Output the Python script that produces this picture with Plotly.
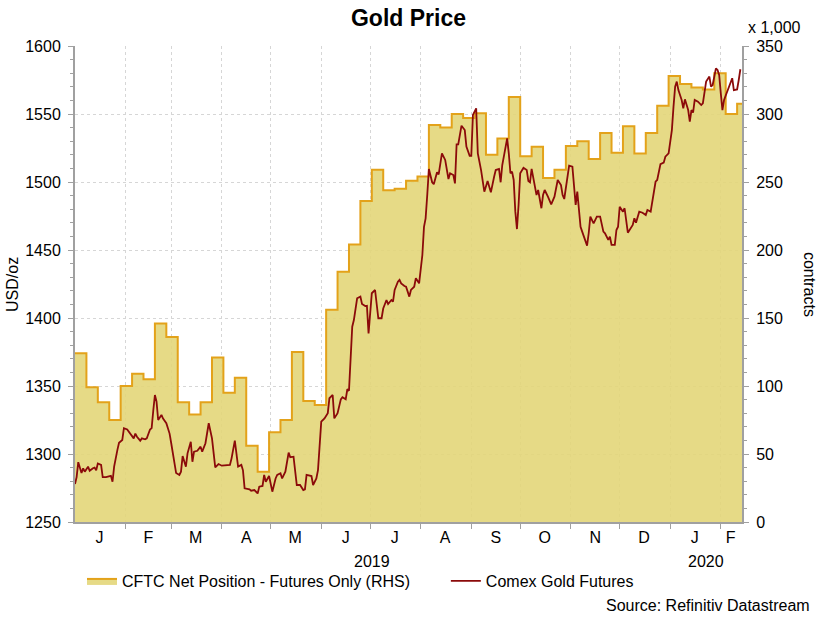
import plotly.graph_objects as go
import pandas as pd

# CFTC net position (futures only), thousand contracts, weekly (Tuesdays) from 2019-01-01
# last entry = value held on the last day shown (2020-02-14)
cftc_k = [124, 99, 88, 75, 100, 109, 105, 146, 136, 88,
          79, 88, 121, 95, 106, 56, 37, 66, 75, 125,
          89, 86, 156, 184, 204, 236, 259, 244, 245, 251,
          254, 292, 290, 300, 297, 300.5, 270, 282, 312.5, 269,
          276, 253, 259, 276.5, 280, 267, 286, 271.5, 291, 271,
          286, 306, 328, 322, 319.5, 318, 330, 300, 307.5, 307.5]

# Comex gold futures, USD/oz (day = days after 2019-01-01)
gold_day = [0, 1, 2, 4, 5, 6, 8, 9, 11, 12, 13, 14, 16, 17, 19, 22, 23, 24, 26, 27,
            29, 30, 32, 34, 36, 37, 38, 40, 41, 43, 44, 46, 47, 48, 49, 50, 51, 53, 54, 56,
            58, 59, 61, 62, 64, 65, 66, 68, 69, 71, 72, 73, 75, 77, 78, 80, 82, 84, 86, 88,
            90, 93, 95, 96, 98, 100, 102, 103, 104, 107,
            108, 110, 112, 113, 115, 116, 117, 119, 121, 123, 124, 126, 127, 129, 131, 132, 134, 136, 138, 140,
            141, 142, 144, 145, 146, 148, 149, 151, 153, 155, 156, 158, 159, 161, 163, 164, 166, 167, 168, 169,
            170, 171, 173, 175, 176, 178, 179, 180, 181, 182, 184, 185, 186, 188, 189, 191, 192, 194, 195, 196,
            198, 199, 200, 202, 203, 205, 206, 208, 209, 211,
            213, 214, 215, 216, 217, 219, 220, 222, 223, 225, 227, 229, 230, 232, 233, 234, 235, 237, 239, 240,
            242, 243, 244, 246, 247, 249, 250, 251, 253, 255, 257, 258, 260, 261, 262, 265, 266, 267, 268, 269,
            270, 271, 272, 273, 275, 277, 278, 279, 280, 281, 283, 284, 286, 287, 288, 290, 292, 294, 296, 298,
            299, 300, 302, 303, 305, 306, 307, 308, 310, 311, 313, 314,
            315, 316, 318, 320, 322, 324, 325, 327, 328, 329, 331, 332, 333, 334, 336, 337, 339, 340, 342, 343,
            344, 346, 348, 350, 351, 353, 354, 356, 357, 358, 359, 361, 362, 364, 365, 366, 367, 368, 369, 370,
            372, 373, 374, 376, 377, 378, 379, 380, 382, 384, 385, 386, 387, 389, 390, 391, 393, 394, 395, 396,
            397, 398, 400, 401, 403, 404, 406, 407, 408]
gold_usd = [1278, 1283, 1294, 1286, 1289.5, 1287, 1290.7, 1287.7, 1289.5, 1290,
            1288, 1293, 1292, 1283, 1283, 1284, 1279.6, 1290.7, 1303, 1308.3,
            1310.3, 1319, 1318, 1315, 1311.5, 1315, 1312.7, 1309.8, 1311.5, 1310.8,
            1311.5, 1318, 1319, 1332, 1343.4, 1338.5, 1325, 1328.7, 1326, 1322.6,
            1315, 1307.9, 1293, 1286, 1284.6, 1287, 1298.5, 1290.7, 1300.5, 1309,
            1294.3, 1301.7, 1302.4, 1305.4, 1301.7, 1307.9, 1322.6, 1311.5, 1290.2, 1292.6,
            1291.4, 1292, 1292, 1296.8, 1309.8, 1290.7, 1292, 1288, 1274.8, 1274,
            1273, 1273.5, 1271, 1276, 1276.5, 1284.6, 1279.6, 1283.8, 1272.3, 1282,
            1284.6, 1285.8, 1282, 1287, 1301, 1297.6, 1298, 1277.2, 1277.2, 1273.5,
            1274, 1284.6, 1283.8, 1283.8, 1277.2, 1282, 1288.2, 1323.8, 1326.2, 1330,
            1341, 1343.4, 1326.2, 1330, 1340.2, 1341.7, 1340.2, 1347.6, 1346.5, 1371.5,
            1393.6, 1398.5, 1414.5, 1415.7, 1410.3, 1408.8, 1409, 1388.7, 1405.9, 1418.2,
            1420.6, 1410.8, 1399.8, 1399.8, 1407, 1413.2, 1410.3, 1413.2, 1412, 1420.6,
            1426.7, 1428, 1425.5, 1423.5, 1423, 1415.7, 1420.6, 1423, 1429.2, 1425.5,
            1446.3, 1467, 1473.3, 1490.4, 1509.6, 1499.8, 1498.3, 1507.1, 1505.6, 1521,
            1516.2, 1502.2, 1506.4, 1505.1, 1499, 1527.7, 1527.7, 1541.4, 1538.2, 1526,
            1519.3, 1519.3, 1549.3, 1554.2, 1521, 1508.8, 1501.5, 1492.9, 1500.7, 1492.4,
            1503.9, 1508.8, 1509.6, 1499.8, 1512.5, 1532.1, 1521, 1506.4, 1507.6, 1501.5,
            1478.2, 1465.4, 1483.1, 1506.4, 1510.5, 1508.8, 1500.7, 1499.8, 1509.6, 1502.7,
            1490.4, 1494.1, 1480.7, 1490.4, 1494.1, 1489.2, 1483.6, 1489.2, 1501.5, 1497.8,
            1490.4, 1487.5, 1505.1, 1512, 1511.2, 1494.1, 1483.1, 1492.9, 1467.1, 1463.5,
            1456.1, 1453.2,
            1462.3, 1474.5, 1469.6, 1474.5, 1474.5, 1463.5, 1462.3, 1457.4, 1459.8, 1453.7,
            1453.7, 1464.7, 1467.1, 1481.8, 1478.2, 1480.7, 1462.7, 1464.7, 1468.4, 1473.3,
            1470.1, 1478.2, 1477.4, 1475.7, 1479.4, 1478.2, 1485.5, 1500.2, 1501.5, 1508.8,
            1513.2, 1514.2, 1518.6, 1521, 1528.4, 1538.2, 1555.4, 1570.1, 1573.8, 1567.6,
            1560.3, 1554.2, 1560.8, 1552.9, 1544.3, 1552.9, 1551, 1560.3, 1559.1, 1556.6,
            1557.9, 1565.2, 1573.8, 1577.5, 1570.1, 1571.3, 1583.6, 1582.4, 1578.7, 1565.2,
            1552.9, 1560.3, 1566.4, 1570.1, 1576.3, 1567.6, 1568.1, 1575, 1582.9]

month_letters = ["J", "F", "M", "A", "M", "J", "J", "A", "S", "O", "N", "D", "J", "F"]
month_mid = ["2019-01-16", "2019-02-15", "2019-03-16", "2019-04-16", "2019-05-16", "2019-06-16",
             "2019-07-16", "2019-08-16", "2019-09-16", "2019-10-16", "2019-11-16", "2019-12-16",
             "2020-01-16", "2020-02-07"]
years = ["2019", "2020"]
year_mid = ["2019-07-02", "2020-01-23"]

start, end = "2019-01-01", "2020-02-14"
cftc_dates = list(pd.date_range(start, "2020-02-11", freq="7D")) + [pd.Timestamp(end)]
gold_dates = pd.Timestamp(start) + pd.to_timedelta(gold_day, unit="D")
month_starts = pd.date_range("2019-02-01", "2020-02-01", freq="MS")

FONT = "Liberation Sans, Arial, sans-serif"
AXIS = "#a0a0a0"
GRID = "#d6d6d6"

fig = go.Figure()
fig.add_trace(go.Scatter(
    x=cftc_dates, y=cftc_k, name="CFTC Net Position - Futures Only (RHS)",
    mode="lines", line=dict(color="#e3a21a", width=2, shape="hv"),
    fill="tozeroy", fillcolor="rgba(227,214,121,0.9)", yaxis="y", legend="legend"))
fig.add_trace(go.Scatter(
    x=gold_dates, y=gold_usd, name="Comex Gold Futures",
    mode="lines", line=dict(color="#8b0a0a", width=1.8), yaxis="y2", legend="legend2"))

legend_style = dict(orientation="h", xanchor="left", y=-0.124, yanchor="middle",
                    font=dict(size=16), bgcolor="rgba(0,0,0,0)")

fig.update_layout(
    width=817, height=617,
    margin=dict(l=75, r=75, t=46, b=95),
    paper_bgcolor="white", plot_bgcolor="white",
    font=dict(family=FONT, size=16, color="black"),
    title=dict(text="<b>Gold Price</b>", x=0.5, xref="paper", y=0.971, yanchor="middle",
               font=dict(size=23, family=FONT)),
    showlegend=True,
    legend=dict(x=0.0105, **legend_style),
    legend2=dict(x=0.556, **legend_style),
    xaxis=dict(
        type="date", range=[start, end],
        tickmode="array", tickvals=month_mid, ticktext=month_letters, ticks="",
        showgrid=False, zeroline=False,
        showline=True, linecolor=AXIS, linewidth=2,
        tickfont=dict(size=16),
        minor=dict(tickmode="array", tickvals=month_starts, ticks="outside", ticklen=5,
                   tickcolor=AXIS, tickwidth=1, showgrid=True, gridcolor=GRID,
                   griddash="dot", gridwidth=1),
    ),
    yaxis=dict(
        range=[0, 350], dtick=50, side="right",
        ticks="outside", ticklen=5, tickcolor=AXIS, ticklabelstandoff=4,
        showline=True, linecolor=AXIS, linewidth=2,
        showgrid=True, gridcolor=GRID, griddash="dot", zeroline=False,
        minor=dict(dtick=10, ticks="outside", ticklen=3, tickcolor=AXIS, showgrid=False),
        tickfont=dict(size=16),
    ),
    yaxis2=dict(
        range=[1250, 1600], dtick=50, side="left", overlaying="y",
        ticks="outside", ticklen=5, tickcolor=AXIS, ticklabelstandoff=4,
        showline=True, linecolor=AXIS, linewidth=2,
        showgrid=False, zeroline=False,
        minor=dict(dtick=10, ticks="outside", ticklen=3, tickcolor=AXIS, showgrid=False),
        tickfont=dict(size=16),
    ),
)

# year labels under the month letters
for yr, mid in zip(years, year_mid):
    fig.add_annotation(x=mid, xref="x", y=-0.084, yref="paper", text=yr,
                       showarrow=False, font=dict(size=16), xanchor="center", yanchor="middle")

fig.add_annotation(x=-0.0945, y=0.5, xref="paper", yref="paper", text="USD/oz",
                   textangle=-90, showarrow=False, font=dict(size=16),
                   xanchor="center", yanchor="middle")
fig.add_annotation(x=1.102, y=0.5, xref="paper", yref="paper", text="contracts",
                   textangle=90, showarrow=False, font=dict(size=16),
                   xanchor="center", yanchor="middle")
fig.add_annotation(x=1.048, y=1.038, xref="paper", yref="paper", text="x 1,000",
                   showarrow=False, font=dict(size=16), xanchor="center", yanchor="middle")
fig.add_annotation(x=1.105, y=-0.176, xref="paper", yref="paper", text="Source: Refinitiv Datastream",
                   xanchor="right", yanchor="middle", showarrow=False, font=dict(size=16))

# drop the browser's default 8px body margin so the figure fills the window
fig.write_html("out.html", config={"displayModeBar": False},
               post_script="document.body.style.margin='0';")
